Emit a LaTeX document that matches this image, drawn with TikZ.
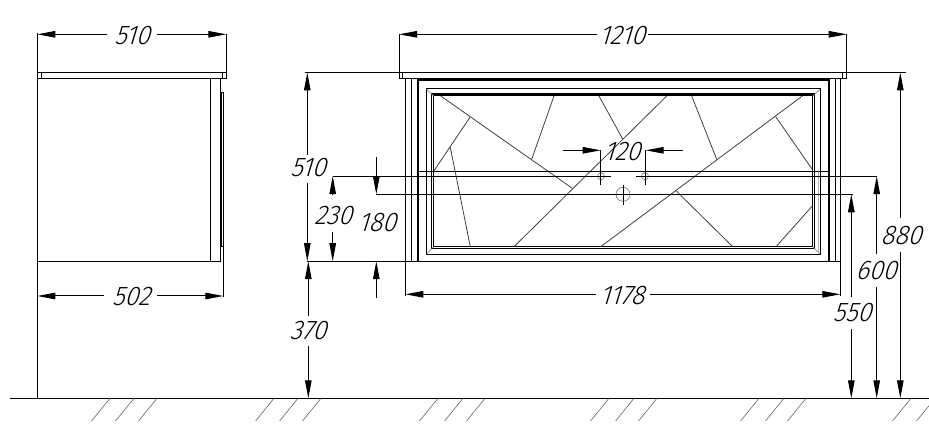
\documentclass[tikz,border=0pt]{standalone}
\usepackage{fontspec}
\newfontfamily\gost[FakeSlant=0.3,FakeStretch=0.93]{Fira Sans Light}
\usetikzlibrary{arrows.meta}
\tikzset{
  x=1pt,y=-1pt,
  edge/.style={line width=1pt,black},
  thick edge/.style={line width=2.4pt,black},
  medium edge/.style={line width=1.5pt,black},
  glass/.style={line width=.8pt,black!75},
  thin grey/.style={line width=.6pt,black!55},
  hatch/.style={line width=.6pt,black!60},
  dim/.style={line width=1pt,black},
  dimtip/.style={dim,-{Triangle[length=18pt,width=6.5pt]}},
  dimlabel/.style={font=\gost\fontsize{27}{27}\selectfont,inner sep=0pt,text=black},
}
% horizontal dimension: name, x1, x2, y, text, gap start, gap end, text centre x
\newcommand{\dimhoriz}[8]{%
  \coordinate (#1-a) at (#2,#4);\coordinate (#1-b) at (#3,#4);
  \coordinate (#1-g) at (#6,#4);\coordinate (#1-h) at (#7,#4);
  \node[dimlabel] (#1) at (#8,#4+1) {#5};
  \draw[dimtip] (#1-g) -- (#1-a);
  \draw[dimtip] (#1-h) -- (#1-b);}
% vertical dimension: name, x, y1, y2, text, gap start, gap end, text centre x, text centre y
\newcommand{\dimvert}[9]{%
  \coordinate (#1-a) at (#2,#3);\coordinate (#1-b) at (#2,#4);
  \coordinate (#1-g) at (#2,#6);\coordinate (#1-h) at (#2,#7);
  \node[dimlabel] (#1) at (#8,#9) {#5};
  \draw[dimtip] (#1-g) -- (#1-a);
  \draw[dimtip] (#1-h) -- (#1-b);}
\begin{document}
\begin{tikzpicture}
\useasboundingbox (0,0) rectangle (929,430);
% ground
\draw[edge] (10,398.3) -- (929,398.3);
\foreach \t in {110,134,157,274,298,321,438,463,485,609,634,657,759,784,806,911,935}{
  \draw[hatch] (\t,398.3) -- (\t-18.5,421);
}
% side view
\draw[edge] (37.3,72.5) rectangle (226.3,78.3);
\draw[edge] (41.3,72.5) -- (41.3,78.3) (222.3,72.5) -- (222.3,78.3);
\draw[edge] (37.3,78.3) rectangle (220.3,261.3);
\draw[edge] (210.3,78.3) -- (210.3,261.3);
\draw[edge] (221.5,93) rectangle (223.3,247);
\draw[edge] (37.3,33) -- (37.3,398.3);
\draw[edge] (226.3,34) -- (226.3,72.5);
\draw[edge] (223.3,247) -- (223.3,297);
% front view: counter top and carcass
\draw[edge] (399,72.5) rectangle (846.7,78.3);
\draw[edge] (402.3,72.5) -- (402.3,78.3) (842.3,72.5) -- (842.3,78.3);
\draw[edge] (399,34) -- (399,72.5) (846.7,34) -- (846.7,72.5);
\draw[edge] (405.3,78.3) -- (405.3,296) (411.3,78.3) -- (411.3,261);
\draw[edge] (835.7,78.3) -- (835.7,261) (840.3,78.3) -- (840.3,296);
\draw[thick edge] (418,261) -- (418,79.7) -- (829,79.7) -- (829,261);
% frame
\draw[edge] (426.3,89) rectangle (820.3,254.3);
\draw[medium edge] (431.7,94) rectangle (814.3,248.5);
\draw[edge] (433.7,96) rectangle (812.7,246.7);
\draw[thin grey] (426.3,89) -- (433.7,96) (820.3,89) -- (812.7,96)
  (426.3,254.3) -- (433.7,246.7) (820.3,254.3) -- (812.7,246.7);
\draw[line width=.8pt,black!30] (818.6,171.5) -- (818.6,252);
% glass pattern
\draw[glass] (440.7,96) -- (572.3,188.3);
\draw[glass] (470,117.3) -- (434,170.7);
\draw[glass] (450.3,147.3) -- (470.3,246.7);
\draw[glass] (554,96) -- (531.7,159.3);
\draw[glass] (599,96) -- (622.7,139);
\draw[glass] (514,246.7) -- (666.7,96);
\draw[glass] (802.3,96) -- (600.7,246.7);
\draw[glass] (691.7,96) -- (716.7,159.3);
\draw[glass] (775.7,116.7) -- (812.7,170);
\draw[glass] (676,190.7) -- (732.7,246.7);
\draw[glass] (812.3,206) -- (776,246.7);
% holes
\draw[thin grey] (601,176.3) circle (3.5) (645,176.3) circle (3.5) (623,194.3) circle (7);
\draw[edge] (623,185) -- (623,205);
% extension lines
\draw[edge] (305,72.5) -- (399,72.5) (846.7,72.5) -- (906,72.5);
\draw[edge] (418,171.5) -- (828,171.5);
\draw[edge] (332.7,176.2) -- (611,176.2) (636,176.2) -- (877,176.2);
\draw[edge] (376.3,194.3) -- (852.7,194.3);
\draw[edge] (307,261.2) -- (840.3,261.2);
\draw[edge] (600.7,150.3) -- (600.7,185) (645.7,150.3) -- (645.7,185);
% dimensions
\dimhoriz{d510s}{37.3}{226.3}{34.3}{510}{107}{157}{132}
\dimhoriz{d502}{37.3}{223.3}{296}{502}{104}{157}{131}
\dimhoriz{d1210}{399}{846.7}{34.3}{1210}{597}{648}{622}
\dimhoriz{d1178}{405.3}{840.3}{294.3}{1178}{596}{650}{622}
\dimhoriz{d120}{600.7}{645.7}{150.3}{120}{563}{683}{622}
\dimvert{d510}{307.3}{72.5}{261.2}{510}{155}{183}{308}{168}
\dimvert{d370}{308.3}{261.2}{398.3}{370}{316}{346}{308}{331}
\dimvert{d230}{332.7}{176.2}{261.2}{230}{195}{232}{333}{216}
\dimvert{d180}{376.3}{194.3}{261.2}{180}{157}{298}{377}{223}
\dimvert{d880}{900.3}{72.5}{398.3}{880}{218}{252}{901}{236}
\dimvert{d600}{876.7}{176.2}{398.3}{600}{254}{287}{876}{271}
\dimvert{d550}{851.3}{194.3}{398.3}{550}{297}{329}{852}{313}
\end{tikzpicture}
\end{document}
